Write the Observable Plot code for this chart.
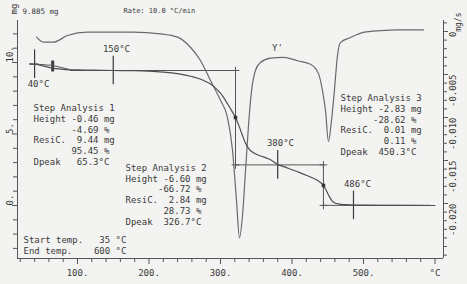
<!DOCTYPE html>
<html><head><meta charset="utf-8">
<script src="https://cdn.jsdelivr.net/npm/d3@7"></script>
<script src="https://cdn.jsdelivr.net/npm/@observablehq/plot@0.6"></script>
<style>
html,body{margin:0;padding:0;background:#f3f3f1;}
svg text, svg tspan{white-space:pre;}
</style></head><body><div id="chart"></div>
<script>
// TG curve (temperature °C, mass mg)
const tgTemp = [33,40,50,60,70,80,100,120,150,180,200,220,240,260,275,290,300,310,316,321,326,330,335,340,345,350,360,370,380,390,400,410,420,430,438,444,448,452,456,460,466,475,486,500,550,600];
const tgMass = [9.90,9.88,9.78,9.66,9.57,9.52,9.48,9.46,9.44,9.43,9.40,9.33,9.22,9.02,8.78,8.35,7.85,7.10,6.60,6.15,5.55,5.00,4.35,3.95,3.72,3.58,3.40,3.20,2.86,2.70,2.50,2.32,2.12,1.90,1.68,1.40,1.05,0.65,0.33,0.18,0.10,0.06,0.03,0.02,0.01,0.00];
// auxiliary step line near start
const auxTemp = [40,65.3,90];
const auxMass = [9.89,9.80,9.50];
// DTG curve (temperature °C, rate mg/s)
const dtgTemp = [42.7,52.4,66.4,86,114,178,216,240,258,272,286,300,309.8,316.8,322.4,326.6,330.8,335,339.2,343.4,349,355.9,369.9,388.1,407.7,425.9,437.1,442.7,446.9,451,455.2,459.3,463.6,467.8,481.8,500,523.8,547.6,583.9];
const dtgRate = [-0.00066,-0.00124,-0.00124,-0.00047,-0.00008,-0.00008,-0.00027,-0.00066,-0.00183,-0.00337,-0.0057,-0.0080,-0.0100,-0.0138,-0.0197,-0.0240,-0.0214,-0.0162,-0.0109,-0.0069,-0.0045,-0.0036,-0.0031,-0.0030,-0.0034,-0.0038,-0.0049,-0.0069,-0.0092,-0.0128,-0.0104,-0.0069,-0.0028,-0.0013,-0.0007,-0.0001,0.0001,0.0002,0.0002];

// axes
const xTickValues = [100,200,300,400,500,600];
const xTickLabels = ["100.","200.","300.","400.","500.","°C"];
const xMinorTicks = [20,40,60,80,120,140,160,180,220,240,260,280,320,340,360,380,420,440,460,480,520,540,560,580];
const yTickValues = [0,5,10];
const yTickLabels = ["0.","5.","10."];
const yMinorTicks = [-3,-2,-1,1,2,3,4,6,7,8,9,11,12];
const rTickValues = [0,-0.005,-0.010,-0.015,-0.020];
const rTickLabels = ["0","-0.005","-0.010","-0.015","-0.020"];
const rMinorTicks = [0.001,-0.001,-0.002,-0.003,-0.004,-0.006,-0.007,-0.008,-0.009,-0.011,-0.012,-0.013,-0.014,-0.016,-0.017,-0.018,-0.019,-0.021,-0.022,-0.023,-0.024,-0.025,-0.026];

// step analysis
const stepTemps = [321,444];
const stepLevels = [9.44,2.84,0.01];
const levelStart = [90,321,444];
const levelEnd = [321,444,594];
const inflMass = [6.15,1.40];
const markTemps = [40,150,380,486];
const markMass = [9.885,9.44,2.84,0.01];
const markLabels = ["40°C","150°C","380°C","486°C"];
const markLabelT = [45.5,154.5,383.9,491.6];
const markLabelM = [8.46,10.91,4.34,1.47];
const dpeak1 = 65.3, dpeak1Mass = 9.72;

const blockT = [38.5,167.1,467.8,24.5];
const blockM = [7.15,2.96,7.85,-2.08];
const blockLines = [
 ["Step Analysis 1","Height -0.46 mg","       -4.69 %","ResiC.  9.44 mg","       95.45 %","Dpeak   65.3°C"],
 ["Step Analysis 2","Height -6.60 mg","      -66.72 %","ResiC.  2.84 mg","       28.73 %","Dpeak  326.7°C"],
 ["Step Analysis 3","Height -2.83 mg","      -28.62 %","ResiC.  0.01 mg","        0.11 %","Dpeak  450.3°C"],
 ["Start temp.   35 °C","End temp.    600 °C"]
];
const headerLeft = "9.885 mg";
const headerRate = "Rate: 10.0 °C/min";
const yPrimeT = 379.7, yPrimeM = 10.98;

// secondary (DTG) axis mapped onto mass axis
const rateToMass = v => 12.168 + 601.4 * v;
const xDomain = [16.1, 611.9];
const yDomain = [-3.706, 12.937];

const tg = tgTemp.map((t,i)=>({t, m: tgMass[i]}));
const aux = auxTemp.map((t,i)=>({t, m: auxMass[i]}));
const dtg = dtgTemp.map((t,i)=>({t, m: rateToMass(dtgRate[i])}));
const levels = stepLevels.map((m,i)=>({m, x1: levelStart[i], x2: levelEnd[i]}));
const verts = stepTemps.map((t,i)=>({t, y1: stepLevels[i], y2: stepLevels[i+1]}));
const ends = [];
stepTemps.forEach((t,i)=>{ends.push({t, m: stepLevels[i]}); ends.push({t, m: stepLevels[i+1]});});
const infl = stepTemps.map((t,i)=>({t, m: inflMass[i]}));
const marks = markTemps.map((t,i)=>({t, m: markMass[i]}));
const mlabels = markLabels.map((s,i)=>({s, t: markLabelT[i], m: markLabelM[i]}));
const blocks = blockLines.map((l,i)=>({t: blockT[i], m: blockM[i], s: l.join("\n")}));

const ink = "#3a3a3a", line = "#555";
const chart = Plot.plot({
  width: 467, height: 284,
  marginLeft: 17, marginRight: 24, marginTop: 20, marginBottom: 26,
  x: {domain: xDomain},
  y: {domain: yDomain},
  style: {background: "#f3f3f1", color: ink, fontFamily: "DejaVu Sans Mono", fontSize: "9px"},
  marks: [
    Plot.ruleX([xDomain[0], xDomain[1]], {stroke: line}),
    Plot.ruleY([yDomain[0]], {stroke: line}),
    Plot.axisX({ticks: xMinorTicks, tickSize: 4, tickFormat: () => "", label: null, stroke: line}),
    Plot.axisX({ticks: xTickValues, tickSize: 6, tickPadding: 5, tickFormat: (d) => xTickLabels[xTickValues.indexOf(d)], label: null, stroke: line}),
    Plot.axisY({anchor: "left", ticks: yMinorTicks, tickSize: 4, tickFormat: () => "", label: null, stroke: line}),
    Plot.axisY({anchor: "left", ticks: yTickValues, tickSize: 5, tickFormat: () => "", label: null, stroke: line}),
    Plot.text(yTickValues, {y: d => d, frameAnchor: "left", dx: -7, rotate: -90, text: (d,i) => yTickLabels[i], fill: ink}),
    Plot.axisY({anchor: "right", ticks: rMinorTicks.map(rateToMass), tickSize: 3, tickFormat: () => "", label: null, stroke: line}),
    Plot.axisY({anchor: "right", ticks: rTickValues.map(rateToMass), tickSize: 4, tickFormat: () => "", label: null, stroke: line}),
    Plot.text(rTickValues, {y: d => rateToMass(d), frameAnchor: "right", dx: 10, rotate: -90, text: (d,i) => rTickLabels[i], fill: ink}),
    Plot.text(["mg"], {frameAnchor: "top-left", dx: -7, dy: -6, rotate: -90, fill: ink}),
    Plot.text(["mg/s"], {frameAnchor: "top-right", dx: 12, dy: -8, rotate: -90, fill: ink, fontSize: 8}),
    Plot.text([headerLeft], {frameAnchor: "top-left", dx: 5, dy: -12, textAnchor: "start", fontSize: 7.5, fill: ink}),
    Plot.text([headerRate], {frameAnchor: "top-left", dx: 106, dy: -12, textAnchor: "start", fontSize: 7, fill: ink}),
    // step lines
    Plot.ruleY(levels, {y: "m", x1: "x1", x2: "x2", stroke: line, strokeWidth: 1}),
    Plot.ruleX(verts, {x: "t", y1: "y1", y2: "y2", stroke: line, strokeWidth: 1}),
    Plot.dot(ends, {x: "t", y: "m", symbol: "plus", r: 2.6, stroke: line, strokeWidth: 1}),
    Plot.ruleX(marks, {x: "t", y1: d => d.m - 1.0, y2: d => d.m + 1.0, stroke: ink, strokeWidth: 1.2}),
    Plot.ruleY([marks[0]], {y: "m", x1: d => d.t - 6, x2: d => d.t + 6, stroke: ink}),
    Plot.ruleX([dpeak1], {y1: dpeak1Mass - 0.38, y2: dpeak1Mass + 0.38, stroke: ink, strokeWidth: 3}),
    // curves
    Plot.line(aux, {x: "t", y: "m", stroke: line, strokeWidth: 1}),
    Plot.line(dtg, {x: "t", y: "m", stroke: "#6a6a6a", strokeWidth: 1.2, curve: "monotone-x"}),
    Plot.line(tg, {x: "t", y: "m", stroke: "#4e4e4e", strokeWidth: 1.2, curve: "monotone-x"}),
    Plot.dot(infl, {x: "t", y: "m", symbol: "square", r: 2, fill: "#333"}),
    // texts
    Plot.text(mlabels, {x: "t", y: "m", text: "s", fill: ink}),
    Plot.text([{t: yPrimeT, m: yPrimeM}], {x: "t", y: "m", text: () => "Y'", fill: ink}),
    Plot.text(blocks, {x: "t", y: "m", text: "s", textAnchor: "start", lineAnchor: "top", lineHeight: 1.2, fill: ink})
  ]
});
chart.setAttributeNS("http://www.w3.org/XML/1998/namespace", "xml:space", "preserve");
document.getElementById("chart").appendChild(chart);
</script></body></html>
